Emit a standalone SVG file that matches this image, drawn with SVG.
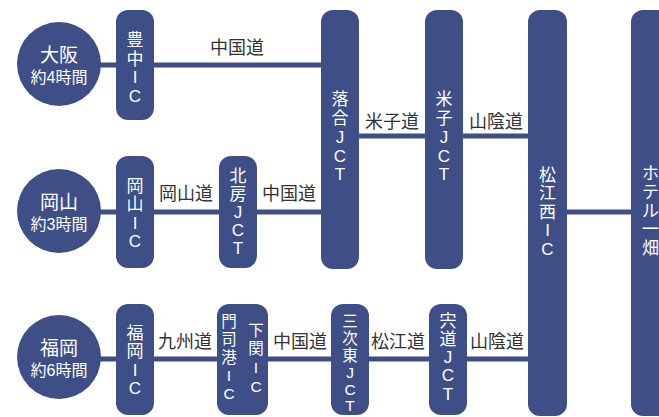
<svg xmlns="http://www.w3.org/2000/svg" width="659" height="417" viewBox="0 0 659 417">
<style>
.pill{fill:#3e4e87}
.circ{fill:#3e4e87}
.ln{stroke:#3e4e87;stroke-width:5;fill:none}
.pt{fill:#fff;font-family:"Liberation Sans","Noto Sans CJK JP",sans-serif;font-size:17px;text-anchor:middle}
.ps{font-size:15.5px}
.ct{fill:#fff;font-family:"Liberation Sans","Noto Sans CJK JP",sans-serif;text-anchor:middle}
.lb{fill:#333;font-family:"Noto Sans CJK JP",sans-serif;font-size:18px;text-anchor:middle}
</style>
<rect width="659" height="417" fill="#fff"/>
<g id="connectors">
<line class="ln" x1="59" y1="65" x2="323" y2="65"/>
<line class="ln" x1="59" y1="212" x2="323" y2="212"/>
<line class="ln" x1="59" y1="359" x2="530" y2="359"/>
<line class="ln" x1="357" y1="136" x2="530" y2="136"/>
<line class="ln" x1="565" y1="212" x2="633" y2="212"/>
<text class="lb" x="237" y="53.5">中国道</text>
<text class="lb" x="186" y="199.5">岡山道</text>
<text class="lb" x="289" y="199.5">中国道</text>
<text class="lb" x="392" y="127.5">米子道</text>
<text class="lb" x="496" y="127.5">山陰道</text>
<text class="lb" x="185" y="347.5">九州道</text>
<text class="lb" x="300" y="347.5">中国道</text>
<text class="lb" x="398" y="347.5">松江道</text>
<text class="lb" x="497" y="347.5">山陰道</text>
</g>
<g id="osaka">
<circle class="circ" cx="59" cy="64" r="42"/>
<text class="ct" x="59" y="62" font-size="19">大阪</text>
<text class="ct" x="59" y="83" font-size="16">約4時間</text>
</g>
<g id="okayama">
<circle class="circ" cx="59" cy="211" r="42"/>
<text class="ct" x="59" y="209" font-size="19">岡山</text>
<text class="ct" x="59" y="230" font-size="16">約3時間</text>
</g>
<g id="fukuoka">
<circle class="circ" cx="59" cy="357" r="42"/>
<text class="ct" x="59" y="355" font-size="19">福岡</text>
<text class="ct" x="59" y="376" font-size="16">約6時間</text>
</g>
<g id="toyonaka-ic">
<rect class="pill" x="116" y="10" width="38" height="110" rx="12"/>
<text class="pt"><tspan x="135" y="46">豊</tspan><tspan x="135" y="64.5">中</tspan><tspan x="135" y="83">I</tspan><tspan x="135" y="101.5">C</tspan></text>
</g>
<g id="ochiai-jct">
<rect class="pill" x="321" y="10" width="38" height="259" rx="12"/>
<text class="pt"><tspan x="340" y="105">落</tspan><tspan x="340" y="124">合</tspan><tspan x="340" y="143">J</tspan><tspan x="340" y="162">C</tspan><tspan x="340" y="180">T</tspan></text>
</g>
<g id="yonago-jct">
<rect class="pill" x="425" y="10" width="38" height="259" rx="12"/>
<text class="pt"><tspan x="444" y="105">米</tspan><tspan x="444" y="124">子</tspan><tspan x="444" y="143">J</tspan><tspan x="444" y="162">C</tspan><tspan x="444" y="180">T</tspan></text>
</g>
<g id="matsue-nishi-ic">
<rect class="pill" x="528" y="10" width="39" height="406" rx="12"/>
<text class="pt"><tspan x="547.5" y="181">松</tspan><tspan x="547.5" y="199">江</tspan><tspan x="547.5" y="218">西</tspan><tspan x="547.5" y="236">I</tspan><tspan x="547.5" y="255">C</tspan></text>
</g>
<g id="hotel-ichibata">
<rect class="pill" x="631" y="10" width="40" height="406" rx="12"/>
<text class="pt"><tspan x="650.5" y="179">ホ</tspan><tspan x="650.5" y="198">テ</tspan><tspan x="650.5" y="217">ル</tspan><tspan x="650.5" y="235">一</tspan><tspan x="650.5" y="254">畑</tspan></text>
</g>
<g id="okayama-ic">
<rect class="pill" x="116" y="156" width="38" height="112" rx="12"/>
<text class="pt"><tspan x="135" y="192">岡</tspan><tspan x="135" y="210">山</tspan><tspan x="135" y="229">I</tspan><tspan x="135" y="247">C</tspan></text>
</g>
<g id="hokubo-jct">
<rect class="pill" x="219" y="156" width="38" height="112" rx="12"/>
<text class="pt"><tspan x="238" y="182">北</tspan><tspan x="238" y="200">房</tspan><tspan x="238" y="218">J</tspan><tspan x="238" y="236">C</tspan><tspan x="238" y="254">T</tspan></text>
</g>
<g id="fukuoka-ic">
<rect class="pill" x="116" y="304" width="38" height="111" rx="12"/>
<text class="pt"><tspan x="135" y="339">福</tspan><tspan x="135" y="357">岡</tspan><tspan x="135" y="376">I</tspan><tspan x="135" y="394">C</tspan></text>
</g>
<g id="mojiko-shimonoseki-ic">
<rect class="pill" x="217" y="304" width="51" height="111" rx="12"/>
<text class="pt ps"><tspan x="229" y="327">門</tspan><tspan x="229" y="345">司</tspan><tspan x="229" y="363">港</tspan><tspan x="229" y="381">I</tspan><tspan x="229" y="399">C</tspan></text>
<text class="pt ps"><tspan x="256" y="336">下</tspan><tspan x="256" y="354">関</tspan><tspan x="256" y="373">I</tspan><tspan x="256" y="392">C</tspan></text>
</g>
<g id="miyoshi-higashi-jct">
<rect class="pill" x="331" y="304" width="38" height="111" rx="12"/>
<text class="pt ps"><tspan x="350" y="327">三</tspan><tspan x="350" y="344">次</tspan><tspan x="350" y="361">東</tspan><tspan x="350" y="378">J</tspan><tspan x="350" y="395">C</tspan><tspan x="350" y="411">T</tspan></text>
</g>
<g id="shinji-jct">
<rect class="pill" x="429" y="304" width="38" height="111" rx="12"/>
<text class="pt"><tspan x="448" y="327">宍</tspan><tspan x="448" y="345">道</tspan><tspan x="448" y="363">J</tspan><tspan x="448" y="381">C</tspan><tspan x="448" y="399.5">T</tspan></text>
</g>
</svg>
